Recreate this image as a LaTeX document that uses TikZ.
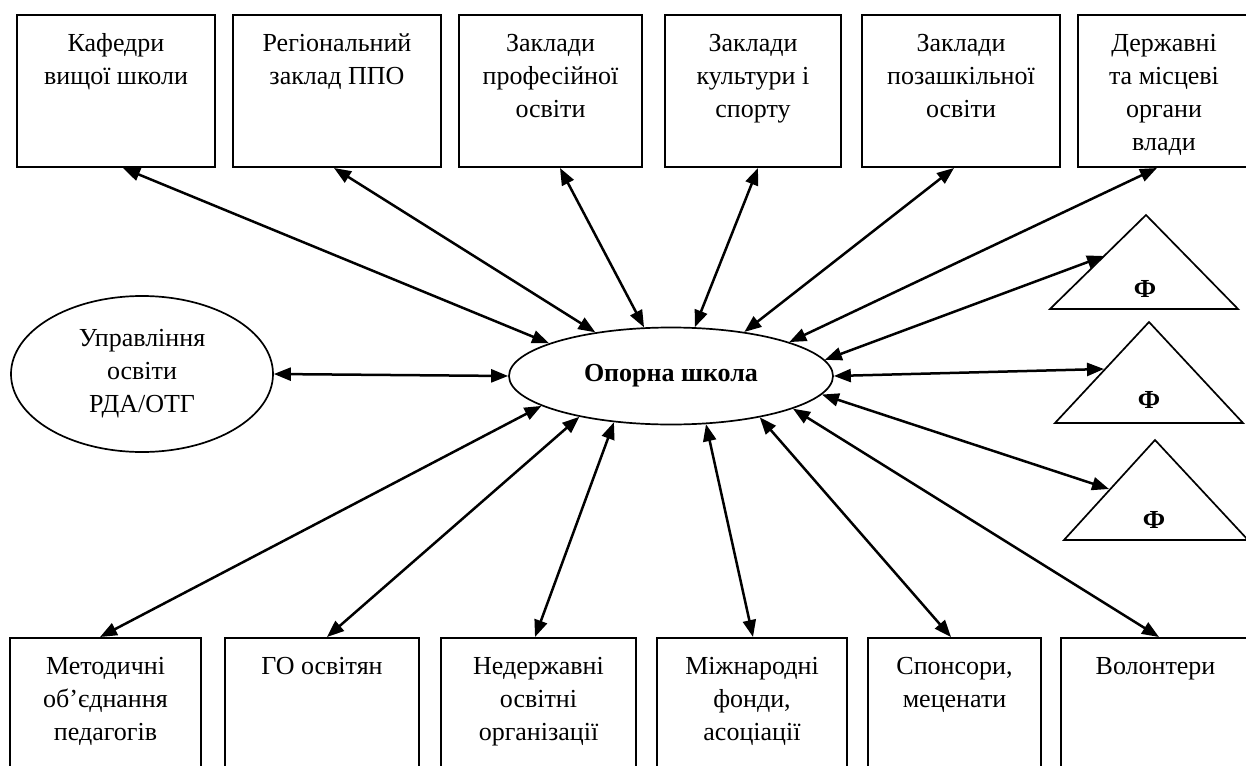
\documentclass[tikz,border=0pt]{standalone}
\usepackage{fontspec}
\setmainfont{Liberation Serif}
\usetikzlibrary{arrows.meta,shapes.geometric}
\newcommand\dfont{\fontsize{26pt}{33pt}\selectfont}
\newcommand\bxt[3]{\parbox[c][#2][t]{#1}{\centering\vspace*{13pt}\strut #3\par}}
\begin{document}
\begin{tikzpicture}[x=1pt,y=-1pt,
 box/.style={draw, line width=2pt, inner sep=0pt, font=\dfont},
 ell/.style={draw, ellipse, line width=1.7pt, inner sep=0pt, font=\dfont, align=center},
 tri/.style={draw, line width=1.7pt, line join=miter},
 phi/.style={font=\dfont\bfseries, inner sep=0pt},
 conn/.style={{Triangle[length=17pt,width=13pt]}-{Triangle[length=17pt,width=13pt]}, line width=2.5pt}]
\useasboundingbox (0,0) rectangle (1246,765);
\clip (0,0) rectangle (1246,765);

% top boxes
\node[box] (b1) at (116,91)    {\bxt{198pt}{152pt}{Кафедри\\вищої школи}};
\node[box] (b2) at (337,91)    {\bxt{208pt}{152pt}{Регіональний\\заклад ППО}};
\node[box] (b3) at (550.5,91)  {\bxt{183pt}{152pt}{Заклади\\професійної\\освіти}};
\node[box] (b4) at (753,91)    {\bxt{176pt}{152pt}{Заклади\\культури і\\спорту}};
\node[box] (b5) at (961,91)    {\bxt{198pt}{152pt}{Заклади\\позашкільної\\освіти}};
\node[box] (b6) at (1164,91)   {\bxt{172pt}{152pt}{Державні\\та місцеві\\органи\\влади}};

% bottom boxes
\node[box] (c1) at (105.5,719) {\bxt{191pt}{162pt}{Методичні\\об’єднання\\педагогів}};
\node[box] (c2) at (322,719)   {\bxt{194pt}{162pt}{ГО освітян}};
\node[box] (c3) at (538.5,719) {\bxt{195pt}{162pt}{Недержавні\\освітні\\організації}};
\node[box] (c4) at (752,719)   {\bxt{190pt}{162pt}{Міжнародні\\фонди,\\асоціації}};
\node[box] (c5) at (954.5,719) {\bxt{173pt}{162pt}{Спонсори,\\меценати}};
\node[box] (c6) at (1155.5,719){\bxt{189pt}{162pt}{Волонтери}};

% ellipses
\node[ell, minimum width=262pt, minimum height=156pt] (ue) at (142,374) {Управління\\освіти\\РДА/ОТГ};
\node[ell, minimum width=324pt, minimum height=97pt, font=\dfont\bfseries] (op) at (671,376) {Опорна школа};

% triangles
\draw[tri] (1146,215) -- (1050,309) -- (1238,309) -- cycle;
\draw[tri] (1149,322) -- (1055,423) -- (1243,423) -- cycle;
\draw[tri] (1155,440) -- (1064,540) -- (1248,540) -- cycle;
\node[phi] (p1) at (1145,289) {Ф};
\node[phi] (p2) at (1149,400) {Ф};
\node[phi] (p3) at (1154,520) {Ф};
\coordinate (f1) at (1104,256);
\coordinate (f2) at (1104,369);
\coordinate (f3) at (1109,489);

% connectors
\draw[conn] (ue.east) -- (op.west);
\draw[conn] ([xshift=7pt]b1.south) -- (op.165);
\draw[conn] ([xshift=-3pt]b2.south) -- (op.150.9);
\draw[conn] ([xshift=9.5pt]b3.south) -- (op.119.6);
\draw[conn] ([xshift=5pt]b4.south) -- (op.64.8);
\draw[conn] ([xshift=-7pt]b5.south) -- (op.31.3);
\draw[conn] ([xshift=-7pt]b6.south) -- (op.16.9);
\draw[conn] (f1) -- (op.6.2);
\draw[conn] (f2) -- (op.0);
\draw[conn] (f3) -- (op.-7.5);
\draw[conn] ([xshift=3.5pt]c6.north) -- (op.-15.4);
\draw[conn] ([xshift=-3.5pt]c5.north) -- (op.-25.1);
\draw[conn] ([xshift=1pt]c4.north) -- (op.-54.8);
\draw[conn] ([xshift=-3.5pt]c3.north) -- (op.-141.6);
\draw[conn] ([xshift=5pt]c2.north) -- (op.-156);
\draw[conn] ([xshift=-5.5pt]c1.north) -- (op.-167.3);
\end{tikzpicture}
\end{document}
